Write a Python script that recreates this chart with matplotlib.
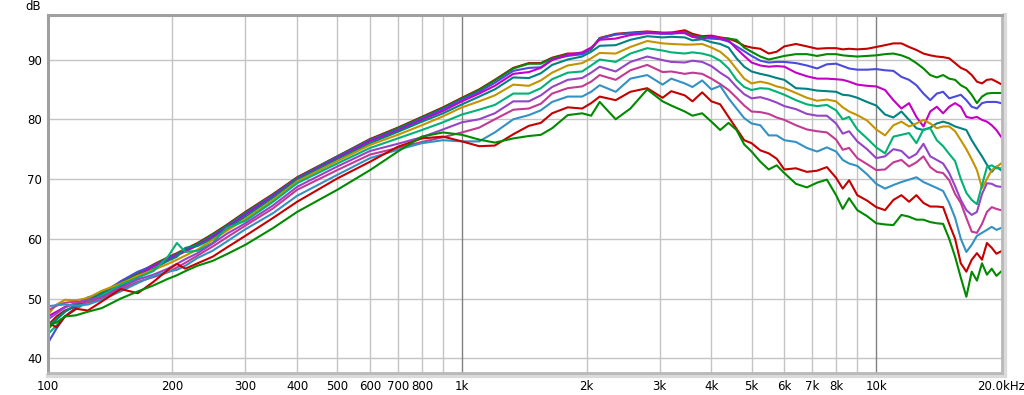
import matplotlib
matplotlib.use("Agg")
import matplotlib.pyplot as plt
from matplotlib.lines import Line2D
from matplotlib.ticker import NullLocator

# frequency points (Hz) shared by all traces
freq = [100, 105, 110, 117, 125, 135, 150, 165, 180, 195, 205, 215, 230, 250, 270, 300, 350, 400,
        500, 600, 700, 800, 900, 1000, 1100, 1200, 1330, 1450, 1550, 1650, 1800, 1950, 2050, 2150,
        2350, 2550, 2800, 3050, 3200,
        3450, 3600, 3800, 4000, 4200, 4400, 4600, 4800, 5000, 5250, 5500, 5750, 6000, 6400, 6800,
        7200, 7600, 8000, 8300, 8600, 9000, 9500, 10000,
        10500, 11000, 11500, 12000, 12500, 13000, 13500, 14000, 14500, 15000, 15500, 16000, 16500,
        17000, 17500, 18000, 18500, 19000, 19500, 20000]

# dB values, top trace first
red_a = [45.5, 47.0, 48.0, 48.7, 49.6, 50.8, 52.7, 54.2, 55.7, 56.9, 57.6, 58.3, 59.3, 60.8, 62.3, 64.5, 67.5, 70.3,
         73.8, 76.7, 78.6, 80.4, 82.0, 83.6, 85.0, 86.6, 88.6, 89.4, 89.4, 90.3, 91.0, 91.0, 91.8, 93.6, 94.3, 94.5, 94.7, 94.5, 94.5,
         94.9, 94.3, 93.9, 94.0, 93.7, 93.5, 93.0, 92.3, 92.0, 91.8, 91.0, 91.3, 92.2, 92.6, 92.2, 91.8, 91.9, 91.9, 91.7, 91.8, 91.7, 91.8, 92.1,
         92.4, 92.7, 92.7, 92.1, 91.6, 91.0, 90.7, 90.5, 90.4, 90.2, 89.4, 88.6, 88.2, 87.4, 86.3, 86.0, 86.6, 86.7, 86.3, 85.9]
green_a = [44.8, 46.5, 47.8, 48.9, 49.8, 51.0, 52.8, 54.3, 55.6, 56.8, 57.5, 58.2, 59.2, 60.7, 62.2, 64.4, 67.4, 70.2,
           73.8, 76.6, 78.5, 80.3, 81.9, 83.5, 84.9, 86.5, 88.5, 89.3, 89.3, 90.2, 90.9, 90.9, 91.7, 93.5, 94.2, 94.4, 94.6, 94.4, 94.4,
           94.6, 94.0, 93.8, 93.7, 93.6, 93.5, 93.3, 92.0, 91.3, 90.5, 90.0, 90.3, 90.6, 90.9, 90.9, 90.6, 90.9, 90.9, 90.7, 90.6, 90.5, 90.6, 90.7,
           90.9, 91.0, 90.7, 90.2, 89.4, 88.5, 87.4, 87.0, 87.4, 86.8, 86.6, 85.7, 85.2, 84.1, 82.7, 83.8, 84.3, 84.4, 84.4, 84.4]
blue = [42.5, 45.0, 47.0, 48.5, 49.5, 50.6, 52.9, 54.5, 55.5, 56.7, 57.4, 58.0, 59.0, 60.5, 62.0, 64.2, 67.3, 70.1,
        73.7, 76.5, 78.3, 80.1, 81.7, 83.3, 84.6, 86.1, 88.1, 88.6, 88.7, 90.0, 90.6, 90.9, 91.8, 93.5, 94.2, 94.4, 94.5, 94.3, 94.3,
        94.5, 93.8, 93.6, 93.5, 93.4, 93.0, 92.2, 91.4, 90.6, 89.8, 89.5, 89.6, 89.6, 89.4, 89.0, 88.5, 89.2, 89.3, 88.9, 88.5, 88.3, 88.3, 88.4,
        88.2, 88.1, 87.1, 86.6, 85.7, 84.3, 83.2, 84.3, 84.6, 83.5, 83.8, 84.1, 83.2, 82.1, 81.8, 82.7, 82.9, 82.9, 82.9, 82.7]
magenta = [47.0, 47.8, 48.6, 49.2, 49.5, 50.2, 52.0, 53.8, 55.4, 56.5, 57.2, 57.9, 58.9, 60.3, 61.8, 64.0, 67.1, 70.0,
           73.5, 76.3, 78.1, 79.9, 81.4, 83.0, 84.3, 85.6, 87.6, 87.9, 88.6, 89.9, 90.8, 91.2, 92.0, 93.3, 93.5, 94.1, 94.4, 94.4, 94.5,
           94.4, 93.8, 93.5, 93.9, 93.6, 93.2, 91.8, 90.6, 89.5, 89.0, 88.8, 88.9, 88.8, 87.8, 87.2, 86.8, 86.8, 86.7, 86.6, 86.3, 85.8, 85.6, 85.5,
           84.9, 83.2, 81.8, 82.7, 80.4, 78.8, 81.3, 82.1, 81.0, 82.1, 82.7, 82.1, 80.4, 80.2, 80.4, 79.9, 79.6, 79.0, 78.2, 77.1]
teal = [45.5, 46.5, 47.8, 49.0, 50.2, 50.8, 52.2, 53.5, 55.0, 56.3, 57.0, 58.5, 58.8, 60.0, 61.6, 63.7, 66.9, 69.9,
        73.3, 76.0, 77.9, 79.6, 81.0, 82.5, 83.8, 85.0, 87.0, 86.9, 87.7, 89.1, 90.0, 90.5, 91.3, 92.3, 92.4, 93.3, 93.9, 93.7, 93.8,
        93.7, 93.2, 93.4, 92.9, 92.6, 92.0, 90.2, 88.8, 88.0, 87.6, 87.3, 86.9, 86.6, 85.2, 85.1, 84.8, 84.7, 84.6, 84.1, 84.0, 83.6, 82.9, 82.3,
        80.8, 80.3, 81.3, 79.9, 78.5, 78.2, 78.6, 79.3, 79.6, 79.3, 78.8, 78.5, 78.2, 76.5, 75.1, 73.8, 72.4, 71.2, 72.1, 71.5]
gold = [47.3, 49.0, 49.8, 49.7, 50.1, 51.3, 52.5, 53.8, 54.8, 55.8, 56.5, 57.2, 58.2, 59.8, 61.3, 63.3, 66.5, 69.6,
        73.0, 75.7, 77.4, 79.0, 80.5, 82.0, 83.0, 84.0, 85.8, 85.6, 86.5, 87.8, 89.0, 89.4, 90.2, 91.1, 91.0, 92.1, 93.1, 92.7, 92.6,
        92.5, 92.5, 92.6, 92.0, 91.3, 90.1, 88.4, 86.8, 86.0, 86.3, 86.0, 85.5, 85.2, 84.4, 83.6, 83.1, 83.3, 83.0, 82.0, 81.3, 80.7, 79.8, 78.3,
        77.3, 79.0, 79.6, 78.8, 79.3, 79.9, 79.3, 78.5, 78.8, 78.8, 78.0, 76.5, 75.0, 73.3, 71.5, 68.5, 70.0, 71.5, 72.0, 72.6]
sea_green = [44.0, 45.5, 47.0, 48.2, 49.5, 50.5, 52.3, 53.5, 54.6, 57.0, 59.3, 57.8, 58.0, 59.3, 61.8, 63.0, 66.2, 69.3,
             72.6, 75.2, 76.8, 78.2, 79.5, 80.8, 81.6, 82.4, 84.3, 84.3, 85.2, 86.7, 87.8, 88.0, 89.0, 90.0, 89.6, 91.0, 91.9, 91.5, 91.2,
             91.0, 91.2, 91.0, 90.6, 89.8, 88.5, 86.6, 85.4, 84.9, 85.2, 85.1, 84.6, 84.1, 83.2, 82.5, 82.2, 82.4, 81.5, 80.0, 80.4, 78.3, 76.8, 75.3,
             74.3, 77.1, 77.4, 77.7, 76.0, 78.3, 78.5, 76.5, 75.5, 74.2, 73.0, 70.0, 67.7, 66.5, 65.8, 69.0, 72.0, 72.3, 71.8, 71.8]
purple = [46.5, 47.5, 48.5, 49.3, 49.8, 50.2, 51.8, 53.2, 54.0, 55.0, 55.8, 56.6, 57.6, 59.2, 60.8, 62.6, 65.6, 68.7,
          72.1, 74.7, 75.9, 77.0, 78.3, 79.5, 80.0, 81.0, 83.0, 83.0, 84.0, 85.4, 86.6, 86.9, 87.8, 88.8, 88.0, 89.6, 90.5, 89.9, 89.6,
          89.5, 89.8, 89.6, 88.9, 87.8, 86.9, 85.4, 84.2, 83.5, 83.7, 83.3, 82.8, 82.2, 81.7, 80.9, 80.6, 80.6, 79.3, 77.6, 78.0, 76.3, 75.0, 73.5,
          73.8, 75.0, 74.7, 73.5, 74.2, 75.9, 73.8, 73.2, 72.6, 71.0, 68.8, 66.5, 64.8, 64.0, 64.5, 67.5, 69.3, 69.2, 68.8, 68.7]
pink = [48.0, 48.8, 49.3, 49.5, 49.3, 50.0, 51.5, 52.8, 53.6, 54.4, 55.2, 56.0, 57.2, 58.7, 60.2, 62.2, 65.1, 68.2,
        71.5, 74.1, 75.2, 76.2, 77.0, 77.8, 78.6, 80.0, 81.6, 81.8, 82.6, 84.3, 85.2, 85.5, 86.3, 87.4, 86.6, 88.2, 89.1, 87.9, 88.0,
        87.6, 87.8, 87.6, 86.8, 85.9, 84.9, 83.6, 82.3, 81.3, 81.2, 80.9, 80.3, 79.9, 79.0, 78.3, 78.0, 77.8, 76.6, 74.9, 75.2, 73.5, 72.5, 71.5,
        71.6, 72.8, 73.2, 72.1, 72.8, 73.8, 72.0, 71.2, 71.0, 69.8, 67.5, 66.0, 63.5, 61.2, 61.0, 62.5, 64.5, 65.3, 65.0, 64.8]
steel = [48.7, 48.9, 49.0, 48.8, 49.0, 49.8, 51.2, 52.6, 53.8, 54.5, 54.8, 55.5, 56.8, 58.0, 59.5, 61.6, 64.3, 67.2,
         70.7, 73.5, 74.9, 76.0, 76.5, 76.3, 76.3, 77.8, 80.0, 80.7, 81.5, 82.9, 83.8, 83.8, 84.6, 85.7, 84.6, 86.8, 87.4, 85.8, 86.8,
         86.0, 85.4, 86.5, 85.0, 85.6, 83.5, 81.8, 80.2, 79.3, 79.0, 77.3, 77.3, 76.5, 76.2, 75.2, 74.6, 75.3, 74.6, 73.2, 72.6, 72.2, 70.8, 69.2,
         68.4, 69.0, 69.5, 69.9, 70.3, 69.5, 69.0, 68.5, 68.0, 66.0, 63.5, 60.0, 57.8, 59.0, 60.5, 61.0, 61.5, 62.0, 61.5, 61.8]
red_b = [46.0, 45.2, 47.0, 48.3, 48.0, 49.5, 51.6, 50.9, 52.8, 54.8, 55.8, 55.0, 55.9, 57.0, 58.5, 60.5, 63.5, 66.2,
         70.1, 72.9, 75.4, 76.8, 77.1, 76.3, 75.5, 75.6, 77.5, 78.9, 79.4, 81.0, 82.0, 81.8, 82.7, 83.8, 83.2, 84.6, 85.2, 83.6, 84.7,
         84.0, 83.0, 84.5, 83.0, 82.5, 80.4, 78.4, 76.5, 76.0, 74.8, 74.3, 73.4, 71.6, 71.8, 71.2, 71.4, 72.0, 70.2, 68.4, 69.8, 67.3, 66.4, 65.3,
         64.8, 66.5, 67.3, 66.2, 67.3, 66.0, 65.4, 65.4, 65.3, 62.5, 60.0, 55.9, 54.5, 56.5, 57.6, 56.5, 59.3, 58.5, 57.5, 57.9]
green_b = [45.5, 46.0, 47.0, 47.2, 47.8, 48.4, 50.0, 51.2, 52.2, 53.3, 53.9, 54.6, 55.5, 56.3, 57.4, 59.0, 61.8, 64.5,
           68.2, 71.5, 74.6, 77.1, 77.8, 77.4, 76.6, 76.1, 76.8, 77.2, 77.4, 78.5, 80.7, 81.0, 80.6, 82.9, 80.0, 81.8, 85.0, 83.0, 82.3,
           81.3, 80.6, 81.0, 79.6, 78.2, 79.4, 78.2, 75.8, 74.6, 72.9, 71.6, 72.3, 71.0, 69.2, 68.6, 69.4, 69.9, 67.3, 65.0, 66.8, 64.8, 63.8, 62.6,
           62.4, 62.3, 64.0, 63.7, 63.2, 63.2, 62.8, 62.6, 62.5, 60.0, 57.0, 53.5, 50.3, 54.5, 53.0, 55.9, 54.0, 55.0, 53.8, 54.5]

traces = [
    (red_a, "#C40000"), (green_a, "#008A00"), (blue, "#4A4ADC"), (magenta, "#C400C4"),
    (teal, "#008282"), (gold, "#C49400"), (sea_green, "#00B273"), (purple, "#9444C4"),
    (pink, "#C23A94"), (steel, "#3491C4"), (red_b, "#C40000"), (green_b, "#008A00"),
]

x_ticks = [100, 200, 300, 400, 500, 600, 700, 800, 1000, 2000, 3000, 4000, 5000, 6000, 7000,
           8000, 10000, 20000]
x_labels = ["100", "200", "300", "400", "500", "600", "700", "800", "1k", "2k", "3k", "4k",
            "5k", "6k", "7k", "8k", "10k", "20.0kHz"]
y_ticks = [40, 50, 60, 70, 80, 90]

fig = plt.figure(figsize=(10.24, 3.95), dpi=100)
ax = fig.add_axes([0.0466, 0.0565, 0.9316, 0.9063])
ax.set_xscale("log")
ax.set_xlim(100, 20080)
ax.set_ylim(37.6, 97.5)

# grid: light lines, decades darker
for f in [200, 300, 400, 500, 600, 700, 800, 900, 2000, 3000, 4000, 5000, 6000, 7000, 8000, 9000]:
    ax.axvline(f, color="#C4C4C4", lw=1.0, zorder=0.5)
for f in [1000, 10000]:
    ax.axvline(f, color="#808080", lw=1.0, zorder=0.6)
for y in y_ticks:
    ax.axhline(y, color="#C4C4C4", lw=1.0, zorder=0.5)

for vals, col in traces:
    assert len(vals) == len(freq)
    ax.plot(freq, vals, color=col, lw=1.5, solid_joinstyle="round", zorder=2)

ax.xaxis.set_minor_locator(NullLocator())
ax.set_xticks(x_ticks)
ax.set_xticklabels(x_labels)
ax.set_yticks(y_ticks)
ax.tick_params(length=0, labelsize=8.5, colors="#000000", pad=5)
ax.tick_params(axis="y", pad=4)

# frame with a soft shadow on the right and bottom
for side in ["left", "top"]:
    ax.spines[side].set_color("#A0A0A0")
    ax.spines[side].set_linewidth(2.2)
for side in ["right", "bottom"]:
    ax.spines[side].set_color("#B8B8B8")
    ax.spines[side].set_linewidth(2.0)
ax.add_line(Line2D([1.004, 1.004], [-0.008, 1.0], transform=ax.transAxes, color="#DADADA",
                   lw=3, clip_on=False))
ax.add_line(Line2D([0.0, 1.004], [-0.008, -0.008], transform=ax.transAxes, color="#DADADA",
                   lw=3, clip_on=False))

fig.text(41 / 1024, 1 - 6 / 395, "dB", ha="right", va="center", fontsize=8.5)

fig.savefig("out.png", dpi=100)
